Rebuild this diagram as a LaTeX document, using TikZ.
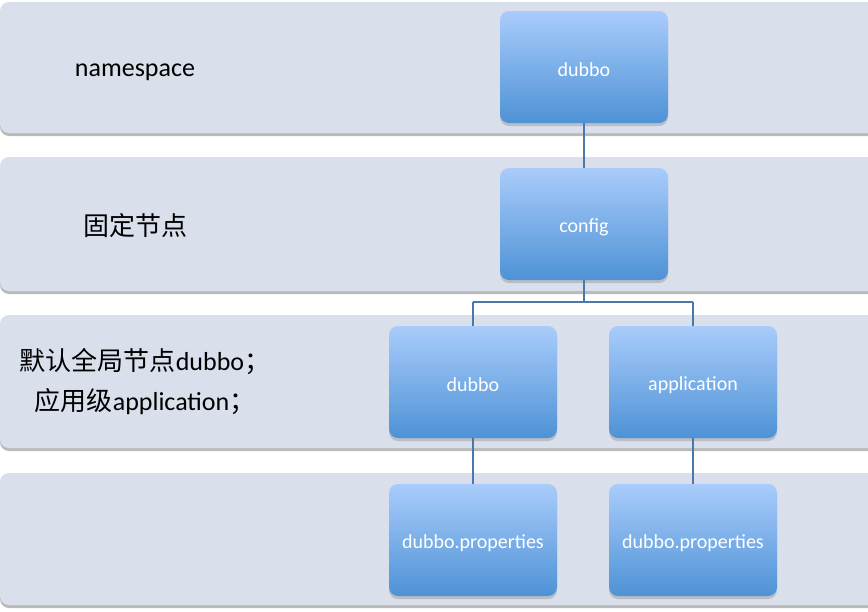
\documentclass[tikz,border=0pt]{standalone}
\usepackage{fontspec}
\setmainfont{Carlito}
\newfontfamily\cjk{Noto Sans CJK SC}
\usetikzlibrary{shadows}
\definecolor{bandfill}{HTML}{D9DFEB}
\definecolor{boxtop}{HTML}{A9CCFB}
\definecolor{boxbot}{HTML}{4E92D6}
\definecolor{wire}{HTML}{4A78A8}
\tikzset{
  band/.style={fill=bandfill, rounded corners=9pt, drop shadow={shadow xshift=0pt, shadow yshift=-3pt, fill=black!45, opacity=0.6}},
  box/.style={rounded corners=9pt, top color=boxtop, bottom color=boxbot, draw=none, minimum width=168pt, minimum height=112pt, inner sep=0pt, text=white, font=\fontsize{20}{24}\selectfont, drop shadow={shadow xshift=0pt, shadow yshift=-3pt, fill=black!50, opacity=0.35}},
  lbl/.style={text=black, font=\fontsize{26}{40}\selectfont, align=left},
  conn/.style={draw=wire, line width=1.4pt}
}
\newcommand{\bx}[1]{\raisebox{-3pt}[\height][\depth]{#1}}
\begin{document}
\begin{tikzpicture}[x=1pt,y=-1pt]
\useasboundingbox (0,0) rectangle (868,611);
% bands
\path[band] (0,2) rectangle (900,133);
\path[band] (0,157) rectangle (900,291);
\path[band] (0,315) rectangle (900,448);
\path[band] (0,473) rectangle (900,605);
% labels
\node[lbl] (l1) at (135,72) {namespace};
\node[lbl] (l2) at (135,226) {\cjk 固定节点};
\node[lbl] (l3) at (145,382) {{\cjk 默认全局节点}dubbo{\cjk ；}\\\hspace*{15pt}{\cjk 应用级}application{\cjk ；}};
% junction points
\coordinate (j) at (584,302);
\coordinate (jl) at (473,302);
\coordinate (jr) at (693,302);
% boxes
\node[box] (ns) at (584,67) {\bx{dubbo}};
\node[box] (cfg) at (584,224) {\bx{config}};
\node[box] (gd) at (473,382) {\bx{dubbo}};
\node[box] (app) at (693,382) {\bx{application}};
\node[box] (p1) at (473,540) {\bx{dubbo.properties}};
\node[box] (p2) at (693,540) {\bx{dubbo.properties}};
\draw[conn] (ns.south) -- (cfg.north);
\draw[conn] (cfg.south) -- (j);
\draw[conn] (jl) -- (jr);
\draw[conn] (jl) -- (gd.north);
\draw[conn] (jr) -- (app.north);
\draw[conn] (gd.south) -- (p1.north);
\draw[conn] (app.south) -- (p2.north);
\end{tikzpicture}
\end{document}
